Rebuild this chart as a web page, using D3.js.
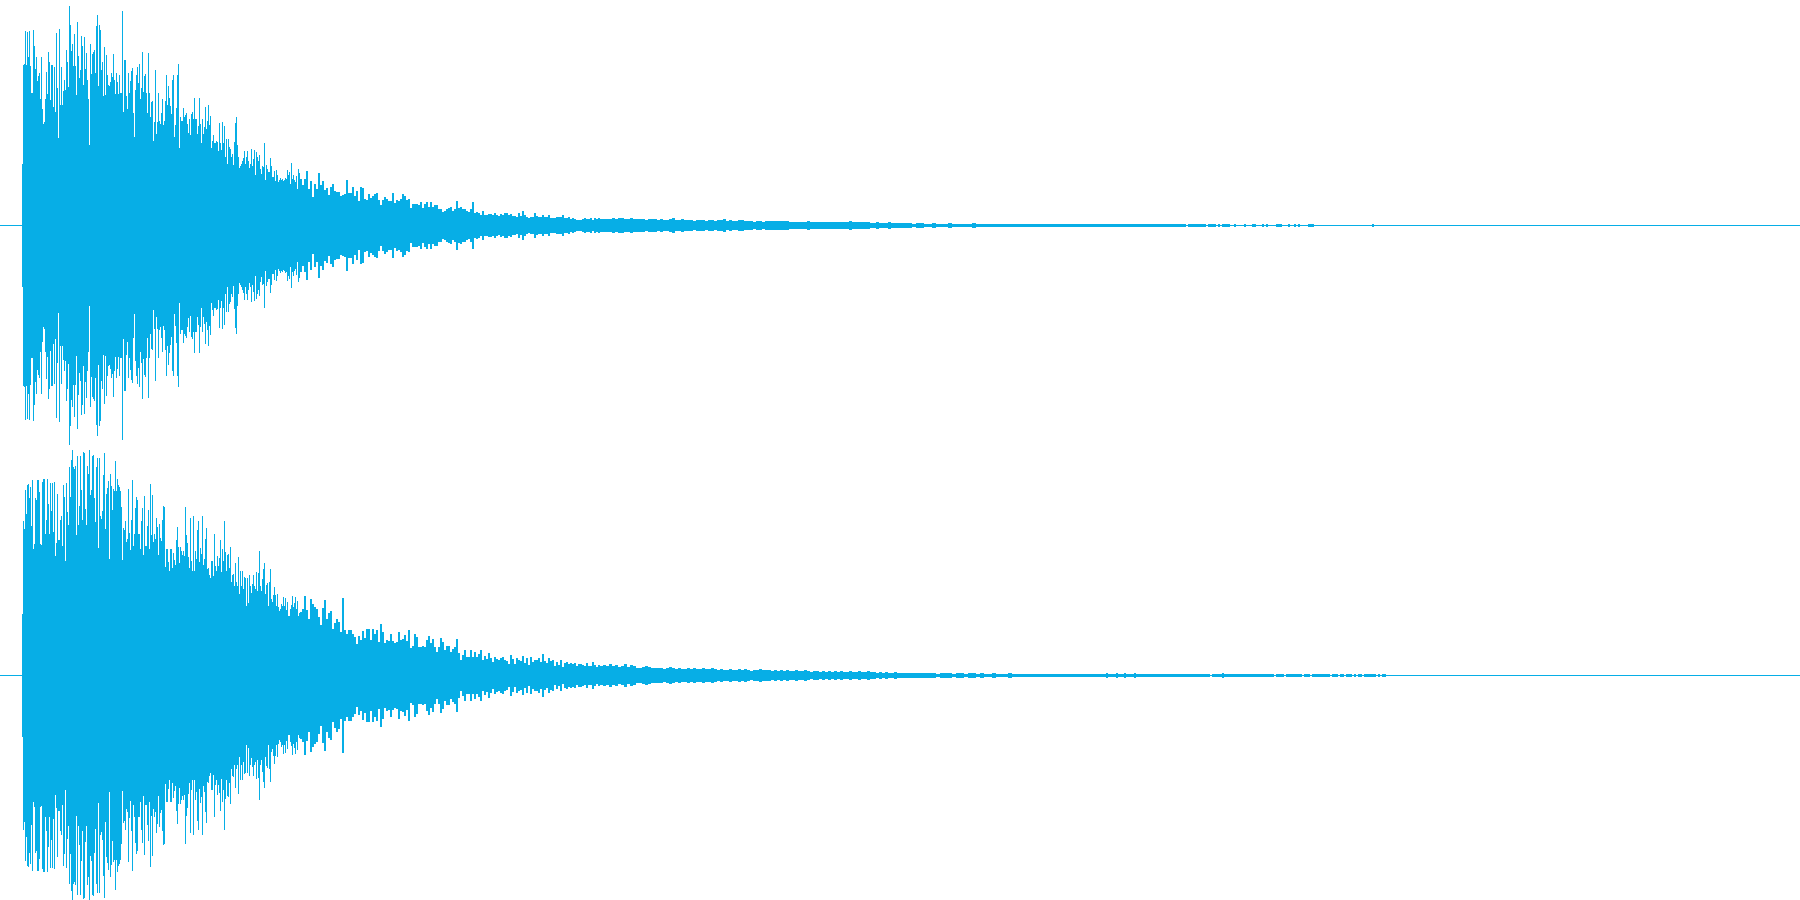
<!DOCTYPE html>
<html><head><meta charset="utf-8">
<style>html,body{margin:0;padding:0;background:#fff}svg{display:block}</style>
<script src="https://cdn.jsdelivr.net/npm/d3@7/dist/d3.min.js"></script></head>
<body><div id="c"></div>
<script>
// Peak amplitude of each time column (full scale = 225). The waveform is symmetric about zero.
const ch1Head=[
61,160,161,194,160,193,168,194,159,132,
132,195,179,156,168,144,149,152,126,168,
116,101,103,126,153,131,173,163,125,160,
160,118,158,113,192,137,87,196,120,158,
120,134,145,135,175,163,138,219,200,174,
181,159,191,159,130,203,169,147,155,189,
179,140,188,156,172,145,126,80,181,151,
171,173,175,152,199,210,139,200,195,155,
163,129,178,130,170,150,140,139,143,152,
148,171,145,131,152,143,131,150,132,132,
214,113,165,165,129,116,152,132,144,154,
157,112,88,135,150,158,142,161,126,137,
173,133,149,151,132,112,172,132,108,123,
124,84,103,155,91,103,132,104,101,112,
126,100,104,124,150,120,139,127,119,111,
145,150,88,100,117,150,161,77,108,104,
104,117,108,110,112,101,92,106,90,111,
113,106,127,106,106,91,99,127,101,82,
106,91,98,118,96,104,120,100,109,77,
84,90,82,82,84,83,74,102,82,75,
103,82,99,68,86,61,86,78,76,68,
71,60,83,102,108,80,68,57,59,61,
64,67,74,61,68,74,64,57,61,76,
59,66,75,50,73,68,64,70,56,51,
59,58,82,45,60,56,53,53,67,59,
48,48,54,44,55,50,43,45,47,45,
46,44,45,47,46,55,50,53,41,62,
46,50,45,43,49,36,56,52];
const ch2Head=[
61,154,146,185,161,190,191,177,188,149,
195,126,131,177,175,195,195,183,131,130,
193,196,196,141,155,196,171,141,192,164,
192,143,193,119,132,181,135,135,155,159,
129,190,178,114,192,163,150,208,178,215,
225,208,206,209,140,219,150,169,219,185,
155,223,222,166,150,209,201,225,180,185,
219,220,177,153,208,217,127,217,159,156,
164,200,222,146,181,187,194,116,201,189,
165,186,184,214,184,196,190,188,184,168,
115,147,145,154,133,136,186,142,125,155,
195,129,141,167,178,175,141,141,126,154,
167,120,179,129,129,149,165,126,191,140,
180,133,141,136,157,148,120,151,137,134,
155,169,168,108,126,126,113,104,126,126,
107,122,115,110,135,148,128,112,128,124,
120,124,119,168,140,132,118,107,157,114,
104,159,104,124,116,145,154,113,127,121,
159,110,116,136,147,106,107,100,97,114,
114,99,141,109,104,119,109,117,135,103,
126,114,154,123,104,120,121,107,128,93,
100,101,89,112,93,89,118,81,104,89,
104,86,98,97,69,97,72,100,89,82,
91,100,89,86,103,84,102,124,89,84,
96,106,112,81,90,92,69,93,106,76,
73,80,88,80,69,81,68,64,66,71,
69,78,69,77,65,73,59,59,66,70,
79,68,72,78,66,74,59,62];
const ch1Mid=[
46,40,46,54,36,44,28,41,36,52,40,44,35,37,30,38,41,34,33,33,
29,30,31,45,32,32,38,29,34,24,38,37,26,25,31,27,29,31,32,25,
20,25,28,26,24,24,32,22,25,24,26,31,29,25,26,17,21,21,21,20,
23,17,21,23,18,23,18,20,20,16,16,13,14,16,17,18,14,16,24,17,
18,16,16,14,13,16,23,12,13,12,10,14,10,10,11,11,10,12,10,9,
11,10,12,12,10,11,9,9,8,12,9,14,10,8,7,8,8,12,9,8,
8,10,8,8,10,7,7,7,8,8,8,10,7,7,8,6,7,6,5,5,
5,6,7,6,6,7,5,7,6,7];
const ch2Mid=[
63,66,79,65,56,76,71,68,66,58,50,67,75,56,62,64,46,52,56,53,
43,77,45,41,45,45,41,38,31,39,35,44,37,46,46,35,46,41,45,33,
51,43,32,35,34,41,34,32,33,43,35,36,40,34,45,27,29,41,38,28,
28,29,28,35,39,32,36,28,23,28,37,33,25,29,29,23,26,28,36,22,
15,20,25,18,18,25,18,23,18,21,25,15,19,16,22,17,13,18,16,15,
17,18,15,14,11,20,16,11,17,15,14,19,12,17,10,18,13,15,15,17,
13,21,14,12,17,14,15,9,13,10,15,8,12,13,11,12,11,12,9,11,
11,10,9,12,9,9,13,10,8,10];
const ch1Low=[
6,6,6,6,7,6,7,7,6,6,7,6,6,6,6,5,6,6,6,5,
6,5,5,6,7,5,5,6,5,5,5,4,5,5,5,4,5,5,4,5,
5,6,4,5,4,4,5,5,4,4,4,3,4,4,3,4,4,4,4,4,
4,4,4,3,3,3,3,3,3,4,3,3,3,3,3,3,3,3,3,3,
3,3,3,4,3,3,3,3,3,3,2,2,3,2,2,2,3,2,2,2];
const ch2Low=[
9,10,9,11,9,10,8,9,11,8,10,9,7,7,8,9,8,7,7,7,
7,6,7,8,7,6,7,6,6,7,6,7,6,6,7,6,6,7,6,5,
6,5,5,6,5,5,6,5,6,5,4,5,5,6,5,5,5,4,5,4,
5,4,5,4,4,5,4,4,5,4,3,4,4,3,4,3,4,3,4,3,
4,3,3,4,3,3,4,3,3,4,3,3,2,3,2,3,2,2,3,2];
const ch1Far=[
2,2,2,1,2,2,1,1,2,1,1,1,2,1,1,1,1,1,2,1,
1,1,1,1,1,1,1,1,1,1,1,1,1,1,1,1,1,1,1,1,
1,1,1,1,1,1,1,1,1,1];
const ch2Far=[
2,2,2,2,2,2,2,2,2,1,2,2,2,1,2,2,1,2,2,1,
2,1,1,2,1,1,1,2,1,1,1,1,1,1,1,1,1,1,1,1,
1,1,1,1,1,1,1,1,1,1];
const ch1Tail=[
1,1,1,1,1,1,1,1,1,1,1,1,1,1,1,1,1,1,1,1,
1,1,1,1,1,1,1,1,1,1,1,1,1,1,1,1,1,1,1,1,
1,1,1,0,1,1,1,1,1,1,1,1,1,0,1,1,1,1,0,1,
0,1,1,1,1,0,0,1,0,0,0,0,1,0,0,0,1,1,0,0,
0,1,0,1,0,0,0,0,1,1,1,0,0,0,1,0,0,1,0,1,
0,0,0,0,1,1,1,0,0,0,0,0,0,0,0,0,0,0,0,0,
0,0,0,0,0,0,0,0,0,0,0,0,0,0,0,0,1,0,0,0,
0,0,0,0,0,0,0,0,0,0];
const ch2Tail=[
1,1,1,2,1,1,1,1,2,1,1,1,2,1,1,1,1,2,1,1,
1,1,1,1,1,1,1,1,1,1,1,1,1,1,1,1,1,1,1,1,
1,1,1,1,1,1,1,1,1,1,1,1,1,1,1,0,1,1,1,1,
1,2,1,1,1,1,1,1,1,1,1,1,1,1,1,1,1,1,1,1,
1,1,1,1,1,1,1,0,1,1,1,1,0,1,1,1,1,1,1,1,
1,0,1,1,1,0,1,1,1,1,1,1,1,1,1,0,1,1,1,0,
1,1,0,1,1,1,0,1,0,1,1,0,1,1,1,1,1,1,0,1,
0,1,1,0,0,0,0,0,0,0];
const sections=[
 {start:22,step:1,key:"Head"},
 {start:300,step:2,key:"Mid"},
 {start:600,step:3,key:"Low"},
 {start:900,step:4,key:"Far"},
 {start:1100,step:2,key:"Tail"}];
const channels=[
 {Head:ch1Head,Mid:ch1Mid,Low:ch1Low,Far:ch1Far,Tail:ch1Tail,top:0},
 {Head:ch2Head,Mid:ch2Mid,Low:ch2Low,Far:ch2Far,Tail:ch2Tail,top:450}];
const W=1800,H=900,COLOR="#07aee6";
const x=d3.scaleLinear().domain([0,W]).range([0,W]);
const svg=d3.select("#c").append("svg").attr("width",W).attr("height",H).attr("shape-rendering","crispEdges");
channels.forEach(ch=>{
  const y=d3.scaleLinear().domain([-225,225]).range([ch.top+450,ch.top]);
  const cols=sections.flatMap(s=>ch[s.key].map((a,i)=>({t:s.start+i*s.step,w:s.step,a}))).filter(d=>d.a>0);
  const g=svg.append("g");
  g.append("rect").attr("x",x(0)).attr("width",x(W)-x(0)).attr("y",y(0)).attr("height",1).attr("fill",COLOR);
  g.selectAll("rect.c").data(cols).join("rect").attr("class","c")
    .attr("x",d=>x(d.t)).attr("width",d=>x(d.t+d.w)-x(d.t))
    .attr("y",d=>y(d.a)).attr("height",d=>y(-d.a)-y(d.a)+1).attr("fill",COLOR);
});
</script></body></html>
